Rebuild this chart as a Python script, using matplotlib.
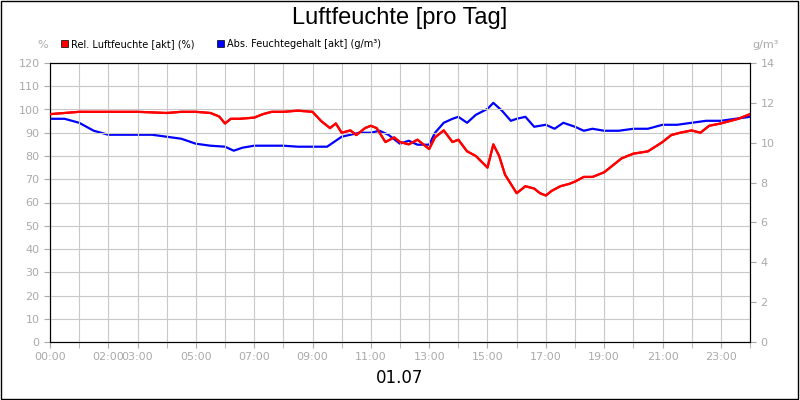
import matplotlib
matplotlib.use("Agg")
import matplotlib.pyplot as plt

rel_t = [0,0.5,1,2,3,4,4.5,5,5.5,5.8,6.0,6.2,6.5,7,7.3,7.6,8,8.5,9,9.3,9.6,9.8,10,10.3,10.5,10.8,11,11.2,11.5,11.8,12,12.3,12.6,13,13.2,13.5,13.8,14,14.3,14.6,15,15.2,15.4,15.6,15.8,16,16.3,16.6,16.8,17,17.2,17.5,17.8,18,18.3,18.6,19,19.3,19.6,20,20.5,21,21.3,21.6,22,22.3,22.6,23,23.3,23.6,24]
rel_v = [98,98.5,99,99,99,98.5,99,99,98.5,97,94,96,96,96.5,98,99,99,99.5,99,95,92,94,90,91,89,92,93,92,86,88,86,85,87,83,88,91,86,87,82,80,75,85,80,72,68,64,67,66,64,63,65,67,68,69,71,71,73,76,79,81,82,86,89,90,91,90,93,94,95,96,98]
abs_t = [0,0.5,1,1.5,2,2.5,3,3.5,4,4.5,5,5.5,6,6.3,6.6,7,7.5,8,8.5,9,9.5,10,10.3,10.6,11,11.3,11.6,12,12.3,12.6,13,13.2,13.5,13.8,14,14.3,14.6,15,15.2,15.5,15.8,16,16.3,16.6,17,17.3,17.6,18,18.3,18.6,19,19.5,20,20.5,21,21.5,22,22.5,23,23.5,24]
abs_v = [11.2,11.2,11.0,10.6,10.4,10.4,10.4,10.4,10.3,10.2,9.95,9.85,9.8,9.6,9.75,9.85,9.85,9.85,9.8,9.8,9.8,10.3,10.4,10.5,10.5,10.6,10.4,9.95,10.1,9.9,9.9,10.5,11.0,11.2,11.3,11.0,11.4,11.7,12.0,11.6,11.1,11.2,11.3,10.8,10.9,10.7,11.0,10.8,10.6,10.7,10.6,10.6,10.7,10.7,10.9,10.9,11.0,11.1,11.1,11.2,11.3]

label_hours = [0,2,3,5,7,9,11,13,15,17,19,21,23]
label_text = ["%02d:00" % h for h in label_hours]

fig = plt.figure(figsize=(8,4), dpi=100)
fig.patch.set_facecolor("white")
ax = fig.add_axes([50/800, 58/400, 700/800, 279/400])
ax2 = ax.twinx()
grey = "#aaaaaa"
ax.plot(rel_t, rel_v, color="#ff0000", lw=1.6, zorder=3)
ax2.plot(abs_t, abs_v, color="#0000ff", lw=1.6, zorder=3)
ax.set_xlim(0,24); ax.set_ylim(0,120); ax2.set_ylim(0,14)
ax.set_yticks(range(0,121,10)); ax2.set_yticks(range(0,15,2))
ax.set_xticks(range(0,25), minor=True)
ax.set_xticks(label_hours); ax.set_xticklabels(label_text)
ax.grid(True, which="both", axis="x", color="#c8c8c8", lw=0.8)
ax.grid(True, axis="y", color="#c8c8c8", lw=0.8)
for a in (ax, ax2):
    a.tick_params(colors=grey, labelsize=8, length=4, which="both")
    for s in a.spines.values():
        s.set_color("black")
ax.set_zorder(ax2.get_zorder()+1); ax.patch.set_visible(False)
ax2.set_zorder(0)
ax.plot(rel_t, rel_v, color="#ff0000", lw=1.6, zorder=3)
fig.text(0.5, 0.955, "Luftfeuchte [pro Tag]", ha="center", va="center", fontsize=17, family="Liberation Sans")
fig.text(0.5, 0.055, "01.07", ha="center", va="center", fontsize=12)
fig.text(48/800, 352/400, "%", color=grey, fontsize=8, ha="right")
fig.text(752/800, 352/400, "g/m³", color=grey, fontsize=8, ha="left")
fig.patches.append(plt.Rectangle((61/800, 0.883), 7/800, 7/400, transform=fig.transFigure, fc="red", ec="black", lw=0.5))
fig.text(71/800, 0.891, "Rel. Luftfeuchte [akt] (%)", fontsize=7, va="center")
fig.patches.append(plt.Rectangle((217/800, 0.883), 7/800, 7/400, transform=fig.transFigure, fc="blue", ec="black", lw=0.5))
fig.text(227/800, 0.891, "Abs. Feuchtegehalt [akt] (g/m³)", fontsize=7, va="center")
fig.patches.append(plt.Rectangle((0.001,0.002),0.997,0.996, transform=fig.transFigure, fill=False, ec="black", lw=1))
fig.savefig("out.png", dpi=100)
